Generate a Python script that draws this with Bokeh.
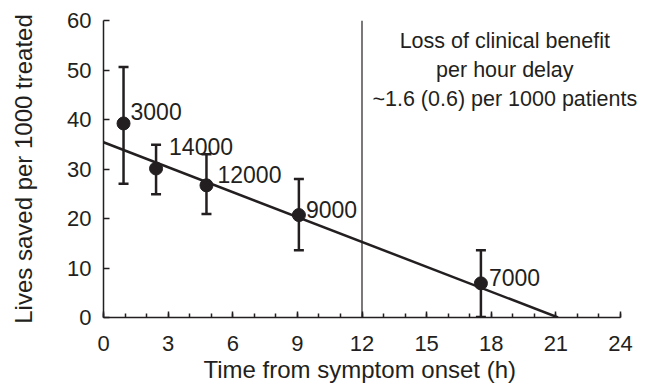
from bokeh.plotting import figure
from bokeh.models import Range1d, FixedTicker, Whisker, ColumnDataSource, Span, Label, TeeHead, Title
from bokeh.embed import file_html
from bokeh.resources import INLINE
from bokeh.core.properties import value

# ---- data ----
hours = [0.93, 2.44, 4.78, 9.07, 17.52]
lives_saved = [39.2, 30.1, 26.7, 20.7, 6.9]
ci_lower = [27.0, 24.9, 20.9, 13.6, 0.1]
ci_upper = [50.6, 34.9, 33.0, 28.0, 13.6]
patients = ["3000", "14000", "12000", "9000", "7000"]
fit_hours = [0.0, 21.1]
fit_lives = [35.4, 0.0]
cutoff_hour = 12
x_ticks = [0, 3, 6, 9, 12, 15, 18, 21, 24]
x_minor_ticks = list(range(0, 25))
y_ticks = [0, 10, 20, 30, 40, 50, 60]
x_title = "Time from symptom onset (h)"
y_title = "Lives saved per 1000 treated"
annotation = "Loss of clinical benefit\nper hour delay\n~1.6 (0.6) per 1000 patients"
annotation_x = 18.63
annotation_y = 58.3

# label pixel offsets (style, not data)
label_dx = [7, 13, 11, 7, 8]
label_dy = [-12, -22, -11, -6, -6]

INK = "#231f20"
FONT = "Liberation Sans"

W, H = 650, 385
LEFT, RIGHT, TOP, BOTTOM = 103, 5, 20, 68
x_axis_end = 24
x_view_end = x_axis_end * (W - LEFT - RIGHT) / 517.0  # extra room on the right for text

src = ColumnDataSource(dict(x=hours, y=lives_saved, lower=ci_lower, upper=ci_upper,
                            txt=patients, dx=label_dx, dy=label_dy))

p = figure(width=W, height=H, x_range=Range1d(0, x_view_end), y_range=Range1d(0, 60),
           output_backend="svg", toolbar_location=None,
           min_border_left=LEFT, min_border_right=RIGHT, min_border_top=TOP, min_border_bottom=BOTTOM)
p.outline_line_color = None
p.xgrid.grid_line_color = None
p.ygrid.grid_line_color = None
p.background_fill_color = "white"
p.border_fill_color = "white"

p.xaxis.ticker = FixedTicker(ticks=x_ticks, minor_ticks=x_minor_ticks)
p.yaxis.ticker = FixedTicker(ticks=y_ticks, minor_ticks=[])
p.xaxis.bounds = (0, x_axis_end)
p.yaxis.bounds = (0, 60)

for ax in (p.xaxis[0], p.yaxis[0]):
    ax.axis_line_color = INK
    ax.axis_line_width = 1.5
    ax.major_tick_line_color = INK
    ax.major_tick_line_width = 1.5
    ax.minor_tick_line_color = INK
    ax.minor_tick_line_width = 1.5
    ax.major_tick_in = 6
    ax.major_tick_out = 0
    ax.minor_tick_in = 4
    ax.minor_tick_out = 0
    ax.major_label_text_font = FONT
    ax.major_label_text_font_size = "22px"
    ax.major_label_text_color = INK
    ax.axis_label_text_font = FONT
    ax.axis_label_text_font_size = "24px"
    ax.axis_label_text_font_style = "normal"
    ax.axis_label_text_color = INK

p.yaxis.axis_label = y_title
p.xaxis.major_label_standoff = 18
p.yaxis.major_label_standoff = 12
p.yaxis.axis_label_standoff = 27

# x-axis title, placed below the axis and centred on the drawn axis (0..24), not the frame
p.add_layout(Title(text=x_title, align="left", offset=100, standoff=0,
                   text_font=FONT, text_font_size="24px", text_font_style="normal",
                   text_color=INK), "below")

p.add_layout(Span(location=cutoff_hour, dimension="height", line_color=INK, line_width=1.2))

p.line(fit_hours, fit_lives, line_color=INK, line_width=2.5)

p.add_layout(Whisker(source=src, base="x", upper="upper", lower="lower",
                     line_color=INK, line_width=2.5,
                     upper_head=TeeHead(size=10, line_color=INK, line_width=2.5),
                     lower_head=TeeHead(size=10, line_color=INK, line_width=2.5)))

p.scatter("x", "y", source=src, size=13, fill_color=INK, line_color=INK)

p.text("x", "y", text="txt", source=src, x_offset="dx", y_offset="dy",
       text_font=value(FONT), text_font_size="23px", text_color=INK,
       text_align="left", text_baseline="alphabetic")

p.add_layout(Label(x=annotation_x, y=annotation_y, text=annotation, text_align="center",
                   text_baseline="top", text_font=FONT, text_font_size="21.5px",
                   text_color=INK, text_line_height=1.2))

open("out.html", "w").write(file_html(p, INLINE))
